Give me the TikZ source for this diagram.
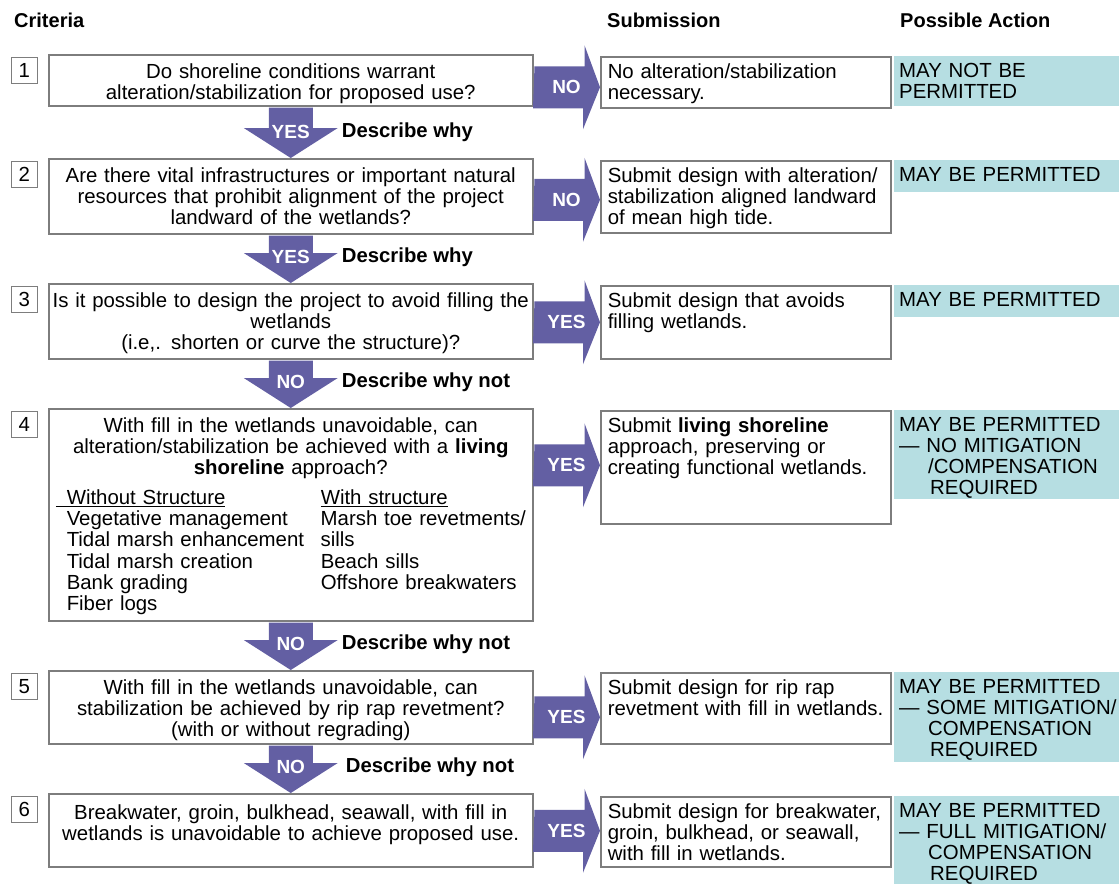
\documentclass[tikz,border=0pt]{standalone}
\usepackage{fontspec}
\setmainfont{Liberation Sans}
\usepackage{xcolor}
\usepackage{tikz}
\usetikzlibrary{positioning,calc}

\definecolor{arrowblue}{RGB}{99,95,163}
\definecolor{actionteal}{RGB}{182,222,226}
\definecolor{boxgray}{RGB}{125,125,125}

\begin{document}
\begin{tikzpicture}[
    x=1pt, y=-1pt,
    font=\fontsize{20.4}{21}\selectfont,
    crit/.style={rectangle, draw=boxgray, line width=1.5pt, fill=white, anchor=north west, inner xsep=2pt, inner ysep=0pt, text width=480pt, align=center, text height=24pt},
    submit/.style={rectangle, draw=boxgray, line width=1.5pt, fill=white, anchor=north west, inner xsep=7pt, inner ysep=0pt, text width=276pt, align=left, text height=22pt},
    action/.style={rectangle, fill=actionteal, anchor=north west, inner xsep=5pt, inner ysep=0pt, text width=215pt, align=left, text height=21pt},
    numbox/.style={rectangle, draw=boxgray, line width=1.2pt, minimum size=26pt, inner sep=0pt},
    header/.style={anchor=west, inner sep=0pt, font=\fontsize{20}{21}\selectfont\bfseries},
    blockarrow/.style={fill=arrowblue},
    arrowlabel/.style={text=white, inner sep=0pt, font=\fontsize{19}{21}\selectfont\bfseries},
    reason/.style={anchor=west, inner sep=0pt, font=\fontsize{20.3}{21}\selectfont\bfseries}
]
    \useasboundingbox (0,0) rectangle (1119,884);

    % Column headers
    \node[header] (hcrit) at (14,20) {Criteria};
    \node[header] (hsub) at (607,20) {Submission};
    \node[header] (hact) at (900,20) {Possible Action};

    % Criteria boxes
    \node[crit, text depth=27pt] (crit1) at (48,54) {Do shoreline conditions warrant\\ alteration/stabilization for proposed use?};
    \node[crit, text depth=51pt] (crit2) at (48,158) {Are there vital infrastructures or important natural\\ resources that prohibit alignment of the project\\ landward of the wetlands?};
    \node[crit, text depth=51pt] (crit3) at (48,283) {Is it possible to design the project to avoid filling the\\ wetlands\\ (i.e,. shorten or curve the structure)?};
    \node[crit, text depth=188pt] (crit4) at (48,408) {With fill in the wetlands unavoidable, can\\
        alteration/stabilization be achieved with a \textbf{living}\\
        \textbf{shoreline} approach?\\[9pt]
        \makebox[480pt][l]{\hspace*{16pt}\begin{tabular}[t]{@{}p{254pt}@{}l@{}}
            \hspace*{-11pt}\underline{\hspace*{11pt}Without Structure} & \underline{With structure}\\
            Vegetative management & Marsh toe revetments/\\
            Tidal marsh enhancement & sills\\
            Tidal marsh creation & Beach sills\\
            Bank grading & Offshore breakwaters\\
            Fiber logs &
        \end{tabular}}};
    \node[crit, text depth=49pt] (crit5) at (48,670) {With fill in the wetlands unavoidable, can\\ stabilization be achieved by rip rap revetment?\\ (with or without regrading)};
    \node[crit, text height=26pt, text depth=47pt] (crit6) at (48,793) {Breakwater, groin, bulkhead, seawall, with fill in\\ wetlands is unavoidable to achieve proposed use.};

    % Step numbers
    \node[numbox, below left=3pt and 10pt of crit1.north west] (n1) {1};
    \node[numbox, below left=3pt and 10pt of crit2.north west] (n2) {2};
    \node[numbox, below left=3pt and 10pt of crit3.north west] (n3) {3};
    \node[numbox, below left=3pt and 10pt of crit4.north west] (n4) {4};
    \node[numbox, below left=3pt and 10pt of crit5.north west] (n5) {5};
    \node[numbox, below left=3pt and 10pt of crit6.north west] (n6) {6};

    % Submission boxes
    \node[submit, text depth=29pt] (sub1) at (600,56) {No alteration/stabilization\\ necessary.};
    \node[submit, text depth=50pt] (sub2) at (600,160) {Submit design with alteration/\\ stabilization aligned landward\\ of mean high tide.};
    \node[submit, text depth=51pt] (sub3) at (600,285) {Submit design that avoids\\ filling wetlands.};
    \node[submit, text depth=91pt] (sub4) at (600,410) {Submit \textbf{living shoreline}\\ approach, preserving or\\ creating functional wetlands.};
    \node[submit, text depth=49pt] (sub5) at (600,672) {Submit design for rip rap\\ revetment with fill in wetlands.};
    \node[submit, text depth=48pt] (sub6) at (600,796) {Submit design for breakwater,\\ groin, bulkhead, or seawall,\\ with fill in wetlands.};

    % Possible actions
    \node[action, text depth=29pt] (act1) at (894,56) {MAY NOT BE\\ PERMITTED};
    \node[action, text depth=11pt] (act2) at (894,160) {MAY BE PERMITTED};
    \node[action, text depth=11pt] (act3) at (894,285) {MAY BE PERMITTED};
    \node[action, text depth=68pt] (act4) at (894,410) {MAY BE PERMITTED\\ \mbox{— NO MITIGATION}\\ \hspace*{29pt}/COMPENSATION\\ \hspace*{31pt}REQUIRED};
    \node[action, text depth=69pt] (act5) at (894,672) {MAY BE PERMITTED\\ \mbox{— SOME MITIGATION/}\\ \hspace*{29pt}COMPENSATION\\ \hspace*{31pt}REQUIRED};
    \node[action, text depth=67pt] (act6) at (894,796) {MAY BE PERMITTED\\ \mbox{— FULL MITIGATION/}\\ \hspace*{29pt}COMPENSATION\\ \hspace*{31pt}REQUIRED};

    % Arrows to the submission column
    \coordinate (r1) at ($(crit1.east |- sub1.west)+(0,5)$);
    \fill[blockarrow] ($(r1)+(1,-21)$) -- ++(50,0) -- ++(0,-21) -- (r1 -| sub1.west) -- ++(-17,42) -- ++(0,-21) -- ++(-50,0) -- cycle;
    \node[arrowlabel] at ($(r1)+(33,0)$) {NO};
    \coordinate (r2) at ($(crit2.east |- sub2.west)+(0,3)$);
    \fill[blockarrow] ($(r2)+(1,-21)$) -- ++(50,0) -- ++(0,-21) -- (r2 -| sub2.west) -- ++(-17,42) -- ++(0,-21) -- ++(-50,0) -- cycle;
    \node[arrowlabel] at ($(r2)+(33,0)$) {NO};
    \coordinate (r3) at ($(crit3.east |- sub3.west)+(0,0)$);
    \fill[blockarrow] ($(r3)+(1,-21)$) -- ++(50,0) -- ++(0,-21) -- (r3 -| sub3.west) -- ++(-17,42) -- ++(0,-21) -- ++(-50,0) -- cycle;
    \node[arrowlabel] at ($(r3)+(33,0)$) {YES};
    \coordinate (r4) at ($(crit4.east |- sub4.west)+(0,-2)$);
    \fill[blockarrow] ($(r4)+(1,-21)$) -- ++(50,0) -- ++(0,-21) -- (r4 -| sub4.west) -- ++(-17,42) -- ++(0,-21) -- ++(-50,0) -- cycle;
    \node[arrowlabel] at ($(r4)+(33,0)$) {YES};
    \coordinate (r5) at ($(crit5.east |- sub5.west)+(0,9)$);
    \fill[blockarrow] ($(r5)+(1,-21)$) -- ++(50,0) -- ++(0,-21) -- (r5 -| sub5.west) -- ++(-17,42) -- ++(0,-21) -- ++(-50,0) -- cycle;
    \node[arrowlabel] at ($(r5)+(33,0)$) {YES};
    \coordinate (r6) at ($(crit6.east |- sub6.west)+(0,-1)$);
    \fill[blockarrow] ($(r6)+(1,-21)$) -- ++(50,0) -- ++(0,-21) -- (r6 -| sub6.west) -- ++(-17,42) -- ++(0,-21) -- ++(-50,0) -- cycle;
    \node[arrowlabel] at ($(r6)+(33,0)$) {YES};

    % Arrows down to the next criterion
    \fill[blockarrow] ($(crit1.south)+(-22,1)$) -- ($(crit2.north)+(-22,-30)$) -- ++(-25,0) -- (crit2.north) -- ++(47,-30) -- ++(-25,0) -- ($(crit1.south)+(22,1)$) -- cycle;
    \node[arrowlabel] (d1) at ($(crit1.south)!0.5!(crit2.north)$) {YES};
    \node[reason] at ($(d1)+(51,0)$) {Describe why};
    \fill[blockarrow] ($(crit2.south)+(-22,1)$) -- ($(crit3.north)+(-22,-30)$) -- ++(-25,0) -- (crit3.north) -- ++(47,-30) -- ++(-25,0) -- ($(crit2.south)+(22,1)$) -- cycle;
    \node[arrowlabel] (d2) at ($(crit2.south)!0.5!(crit3.north)+(0,-2)$) {YES};
    \node[reason] at ($(d2)+(51,0)$) {Describe why};
    \fill[blockarrow] ($(crit3.south)+(-22,1)$) -- ($(crit4.north)+(-22,-30)$) -- ++(-25,0) -- (crit4.north) -- ++(47,-30) -- ++(-25,0) -- ($(crit3.south)+(22,1)$) -- cycle;
    \node[arrowlabel] (d3) at ($(crit3.south)!0.5!(crit4.north)+(0,-2)$) {NO};
    \node[reason] at ($(d3)+(51,0)$) {Describe why not};
    \fill[blockarrow] ($(crit4.south)+(-22,1)$) -- ($(crit5.north)+(-22,-30)$) -- ++(-25,0) -- (crit5.north) -- ++(47,-30) -- ++(-25,0) -- ($(crit4.south)+(22,1)$) -- cycle;
    \node[arrowlabel] (d4) at ($(crit4.south)!0.5!(crit5.north)+(0,-2)$) {NO};
    \node[reason] at ($(d4)+(51,0)$) {Describe why not};
    \fill[blockarrow] ($(crit5.south)+(-22,1)$) -- ($(crit6.north)+(-22,-30)$) -- ++(-25,0) -- (crit6.north) -- ++(47,-30) -- ++(-25,0) -- ($(crit5.south)+(22,1)$) -- cycle;
    \node[arrowlabel] (d5) at ($(crit5.south)!0.5!(crit6.north)+(0,-2)$) {NO};
    \node[reason] at ($(d5)+(55,0)$) {Describe why not};
\end{tikzpicture}
\end{document}
